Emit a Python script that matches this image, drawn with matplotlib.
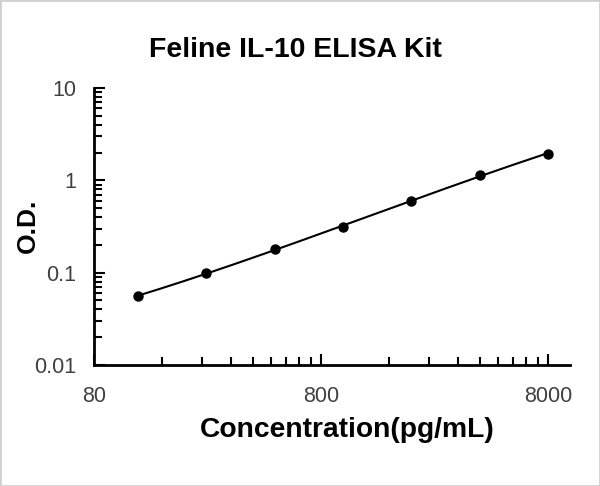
import numpy as np
import matplotlib
matplotlib.use("Agg")
import matplotlib.pyplot as plt
from matplotlib.ticker import FixedLocator, NullFormatter, FixedFormatter
from matplotlib.patches import Rectangle

# Data
concentration = [125, 250, 500, 1000, 2000, 4000, 8000]
od = [0.056, 0.098, 0.181, 0.311, 0.596, 1.142, 1.945]
x_ticks = [80, 800, 8000]
x_tick_labels = ["80", "800", "8000"]
y_ticks = [0.01, 0.1, 1, 10]
y_tick_labels = ["0.01", "0.1", "1", "10"]

plt.rcParams['font.family'] = ['Liberation Sans', 'DejaVu Sans']

fig = plt.figure(figsize=(6.0, 4.86), dpi=100)
ax = fig.add_axes([94/600, 1-365/486, (570-94)/600, (365-88)/486])

# fitted curve in log-log space
lx = np.log10(concentration)
ly = np.log10(od)
coef = np.polyfit(lx, ly, 3)
xs = np.linspace(lx[0], lx[-1], 200)
ax.plot(10**xs, 10**np.polyval(coef, xs), color='black', lw=1.5, zorder=2)
ax.plot(concentration, od, 'o', color='black', ms=6.5, zorder=3)

ax.set_xscale('log')
ax.set_yscale('log')
ax.set_xlim(80, 10000)
ax.set_ylim(0.01, 10)

ax.xaxis.set_major_locator(FixedLocator(x_ticks))
ax.xaxis.set_major_formatter(FixedFormatter(x_tick_labels))
xminor = [80*k*10**d for d in range(0, 3) for k in range(2, 10) if 80*k*10**d < 10000]
ax.xaxis.set_minor_locator(FixedLocator(xminor))
ax.xaxis.set_minor_formatter(NullFormatter())

ax.yaxis.set_major_locator(FixedLocator(y_ticks))
ax.yaxis.set_major_formatter(FixedFormatter(y_tick_labels))
yminor = [k*10.0**d for d in range(-2, 1) for k in range(2, 10)]
ax.yaxis.set_minor_locator(FixedLocator(yminor))
ax.yaxis.set_minor_formatter(NullFormatter())

for s in ['top', 'right']:
    ax.spines[s].set_visible(False)
for s in ['left', 'bottom']:
    ax.spines[s].set_linewidth(2)
    ax.spines[s].set_color('black')

ax.tick_params(which='major', direction='in', length=8, width=1.5, labelsize=15.5,
               labelcolor='#404040', color='black')
ax.tick_params(which='minor', direction='in', length=6, width=1.5, color='black')
ax.tick_params(axis='x', which='major', pad=15)
ax.tick_params(axis='y', which='major', pad=13)

fig.text(295/600, 1-50/486, "Feline IL-10 ELISA Kit", fontsize=20.5, fontweight='bold',
         ha='center', va='center')
fig.text(347/600, 1-430/486, "Concentration(pg/mL)", fontsize=20.3, fontweight='bold',
         ha='center', va='center')
fig.text(28/600, 1-226/486, "O.D.", fontsize=19, fontweight='bold', rotation=90,
         ha='center', va='center')

fig.patches.append(Rectangle((0, 0), 1, 1, transform=fig.transFigure, fill=False,
                             edgecolor='#d0d0d0', lw=2))

fig.savefig("out.png", dpi=100)
